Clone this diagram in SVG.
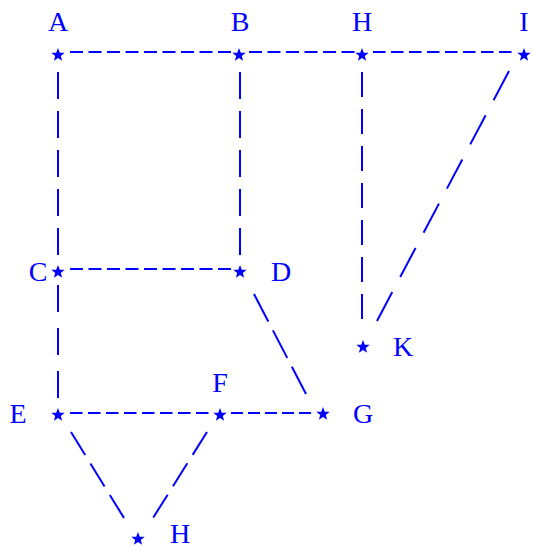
<svg xmlns="http://www.w3.org/2000/svg" width="533" height="550" viewBox="0 0 533 550">
<style>
.lbl{font-family:"Liberation Serif","Times New Roman",serif;font-size:28px;fill:#0000ff;text-anchor:middle}
.c{stroke:#0000ff;stroke-width:2;fill:none}
.h{stroke-dasharray:13 5.5}
.v{stroke-dasharray:27 12}
</style>
<defs>
<polygon id="star" points="0,-7 1.8,-2.3 6.7,-2.2 2.8,0.9 4.1,5.7 0,2.9 -4.1,5.7 -2.8,0.9 -6.7,-2.2 -1.8,-2.3" fill="#0000ff"/>
</defs>
<rect width="533" height="550" fill="#ffffff"/>
<g id="connectors">
<line class="c h" x1="70" y1="52" x2="231" y2="52"/>
<line class="c h" x1="249" y1="52" x2="354.5" y2="52"/>
<line class="c" stroke-dasharray="12.5 5.5" x1="373" y1="52" x2="511.5" y2="52"/>
<line class="c v" x1="58" y1="72" x2="58" y2="255"/>
<line class="c v" x1="240" y1="72" x2="240" y2="255"/>
<line class="c" stroke-dasharray="25 12" x1="362" y1="72" x2="362" y2="322"/>
<line class="c" stroke-dasharray="33 17" x1="509" y1="71" x2="377" y2="321"/>
<line class="c h" x1="70" y1="269" x2="231" y2="269"/>
<line class="c" stroke-dasharray="27 16" x1="58" y1="285" x2="58" y2="398"/>
<line class="c" stroke-dasharray="12.5 5.5" x1="70" y1="413" x2="208.5" y2="413"/>
<line class="c" stroke-dasharray="12 5" x1="231" y1="413" x2="311" y2="413"/>
<line class="c" stroke-dasharray="31 10" x1="254" y1="294" x2="306" y2="394"/>
<line class="c" stroke-dasharray="27 10" x1="71" y1="432" x2="124" y2="518"/>
<line class="c" stroke-dasharray="27 10" x1="207" y1="432" x2="153" y2="518"/>
</g>
<g id="node-A"><use href="#star" x="58" y="55"/><text class="lbl" x="58" y="31">A</text></g>
<g id="node-B"><use href="#star" x="239" y="55"/><text class="lbl" x="240" y="31">B</text></g>
<g id="node-H1"><use href="#star" x="362" y="55"/><text class="lbl" x="362" y="31">H</text></g>
<g id="node-I"><use href="#star" x="524" y="55"/><text class="lbl" x="524" y="31">I</text></g>
<g id="node-C"><use href="#star" x="58" y="272"/><text class="lbl" x="38" y="281">C</text></g>
<g id="node-D"><use href="#star" x="240" y="272"/><text class="lbl" x="281" y="281">D</text></g>
<g id="node-K"><use href="#star" x="363" y="347"/><text class="lbl" x="403" y="356">K</text></g>
<g id="node-E"><use href="#star" x="58" y="415"/><text class="lbl" x="18" y="423">E</text></g>
<g id="node-F"><use href="#star" x="220" y="415"/><text class="lbl" x="220" y="392">F</text></g>
<g id="node-G"><use href="#star" x="323" y="414"/><text class="lbl" x="363" y="423">G</text></g>
<g id="node-H2"><use href="#star" x="138" y="539"/><text class="lbl" x="180" y="543">H</text></g>
</svg>
